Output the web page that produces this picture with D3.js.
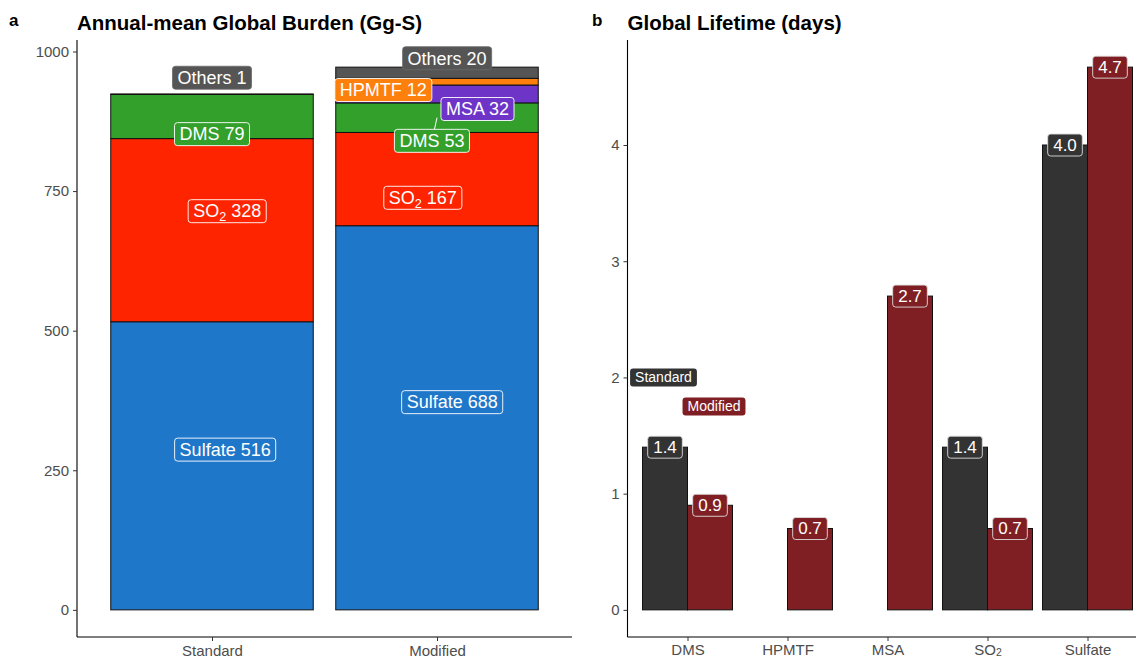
<!DOCTYPE html>
<html>
<head>
<meta charset="utf-8">
<script src="https://cdn.jsdelivr.net/npm/d3@7"></script>
<style>
  body { margin: 0; background: #fff; }
  svg { display: block; font-family: "Liberation Sans", Arial, sans-serif; }
</style>
</head>
<body>
<svg id="chart" width="1136" height="659"></svg>
<script>
// ---------------- DATA ----------------
const burdenCategories = ["Standard", "Modified"];
const burdenSpecies = ["Sulfate", "SO2", "DMS", "MSA", "HPMTF", "Others"];
const standardBurden = [516, 328, 79, 0, 0, 1];
const modifiedBurden = [688, 167, 53, 32, 12, 20];
const burdenTicks = [0, 250, 500, 750, 1000];

const lifetimeCategories = ["DMS", "HPMTF", "MSA", "SO2", "Sulfate"];
const standardLifetime = [1.4, null, null, 1.4, 4.0];
const modifiedLifetime = [0.9, 0.7, 2.7, 0.7, 4.67];
const lifetimeTicks = [0, 1, 2, 3, 4];
const lifetimeGroups = ["Standard", "Modified"];

// ---------------- STYLE / LAYOUT ----------------
const speciesColors = {
  Sulfate: "#1f77c9", SO2: "#fe2400", DMS: "#33a02c",
  MSA: "#6e34c8", HPMTF: "#fe800c", Others: "#555555"
};
const groupColors = { Standard: "#333333", Modified: "#7f1f23" };

// repelled label placements for panel a: [dx (fraction of bar width), y (data units)]
const burdenLabelPlacement = {
  Standard: { Sulfate: [0.065, 287], SO2: [0.075, 714], DMS: [0, 852], Others: [0, 953] },
  Modified: { Sulfate: [0.075, 372], SO2: [-0.07, 738], DMS: [-0.025, 840],
              MSA: [0.2, 897], HPMTF: [-0.265, 931], Others: [0.05, 988] }
};
const burdenLabelSegment = { Modified: { DMS: true } };
// legend-like labels in panel b: [x (continuous category units), y (days)]
const legendPlacement = { Standard: [0.76, 2.0], Modified: [1.265, 1.75] };

const svg = d3.select("#chart");
const plotTop = 40, plotBottom = 637;

function chemParts(name) {
  if (name.startsWith("SO2")) return [["SO", false], ["2", true], [name.slice(3), false]];
  return [[name, false]];
}

function addRichText(g, parts, fs, subShift) {
  const sh = subShift == null ? 0.22 : subShift;
  const t = g.append("text").attr("font-size", fs);
  let sub = false;
  parts.forEach(([txt, isSub]) => {
    if (!txt) return;
    const ts = t.append("tspan").text(txt);
    if (isSub && !sub) { ts.attr("font-size", fs * 0.7).attr("dy", fs * sh); sub = true; }
    else if (!isSub && sub) { ts.attr("dy", -fs * sh); sub = false; }
  });
  return t;
}

function drawLabel(g, cx, cy, parts, opts) {
  const lg = g.append("g");
  const rect = lg.append("rect");
  const t = addRichText(lg, parts, opts.fs).attr("fill", opts.color || "#fff")
    .attr("text-anchor", "middle").attr("x", cx).attr("y", cy + opts.fs * 0.35);
  const bb = t.node().getBBox();
  const h = opts.h;
  rect.attr("x", bb.x - opts.padX).attr("y", cy - h / 2)
    .attr("width", bb.width + 2 * opts.padX).attr("height", h)
    .attr("rx", 3).attr("ry", 3)
    .attr("fill", opts.fill)
    .attr("stroke", opts.stroke || "none").attr("stroke-width", opts.strokeWidth || 0.8);
  return lg;
}

function styleAxis(a) {
  a.selectAll("text").attr("fill", "#4d4d4d").attr("font-family", "Liberation Sans, Arial, sans-serif");
  a.selectAll("line").attr("stroke", "#333");
  a.select(".domain").attr("stroke", "#000").attr("stroke-width", 1.1);
}

// ---------------- PANEL A ----------------
{
  const left = 77, right = 572;
  const total = d3.max([d3.sum(standardBurden), d3.sum(modifiedBurden)]);
  const y = d3.scaleLinear().domain([-total * 0.05, total * 1.05]).range([plotBottom, plotTop]);
  const step = (right - left) / 2.2;
  const x = d3.scalePoint().domain(burdenCategories).range([left + 0.6 * step, right - 0.6 * step]);
  const bw = step * 0.9;

  const g = svg.append("g");
  const series = { Standard: standardBurden, Modified: modifiedBurden };

  burdenCategories.forEach(cat => {
    const vals = series[cat];
    let cum = 0;
    const segs = burdenSpecies.map((sp, i) => {
      const s = { sp, v0: cum, v1: cum + vals[i], v: vals[i] };
      cum += vals[i];
      return s;
    }).filter(s => s.v > 0);
    g.selectAll(null).data(segs).enter().append("rect")
      .attr("x", x(cat) - bw / 2).attr("width", bw)
      .attr("y", d => y(d.v1)).attr("height", d => y(d.v0) - y(d.v1))
      .attr("fill", d => speciesColors[d.sp])
      .attr("stroke", "#111").attr("stroke-width", 1);

    segs.forEach(s => {
      const pl = burdenLabelPlacement[cat][s.sp];
      const cx = x(cat) + pl[0] * bw, cy = y(pl[1]);
      if (burdenLabelSegment[cat] && burdenLabelSegment[cat][s.sp]) {
        g.append("line").attr("x1", x(cat)).attr("y1", y((s.v0 + s.v1) / 2))
          .attr("x2", cx).attr("y2", cy).attr("stroke", "#fff").attr("stroke-width", 1);
      }
      const isOther = s.sp === "Others";
      drawLabel(g, cx, cy, chemParts(s.sp + " " + s.v), {
        fs: 18, h: 23, padX: 5, fill: speciesColors[s.sp],
        stroke: isOther ? "#6a6a6a" : "#ffffff", strokeWidth: isOther ? 0.8 : 0.9
      });
    });
  });

  const yAxis = d3.axisLeft(y).tickValues(burdenTicks).tickFormat(d3.format("d")).tickSize(4).tickPadding(4);
  const ya = svg.append("g").attr("transform", `translate(${left},0)`).call(yAxis);
  ya.select(".domain").attr("d", `M0,${plotTop}V${plotBottom}`);
  const xAxis = d3.axisBottom(x).tickSize(4).tickPadding(4);
  const xa = svg.append("g").attr("transform", `translate(0,${plotBottom})`).call(xAxis);
  xa.select(".domain").attr("d", `M${left},0H${right}`);
  [ya, xa].forEach(a => { a.selectAll("text").attr("font-size", 15); styleAxis(a); });

  svg.append("text").attr("x", 9).attr("y", 26).attr("font-size", 17).attr("font-weight", "bold").text("a");
  svg.append("text").attr("x", left).attr("y", 30).attr("font-size", 20.5).attr("font-weight", "bold")
    .text("Annual-mean Global Burden (Gg-S)");
}

// ---------------- PANEL B ----------------
{
  const left = 627.5, step = 100;
  const x = d3.scaleLinear().domain([0.4, 5.6]).range([left, left + 5.2 * step]);
  const maxV = d3.max(standardLifetime.concat(modifiedLifetime));
  const y = d3.scaleLinear().domain([-maxV * 0.05, maxV * 1.05]).range([plotBottom, plotTop]);
  const bw = step * 0.45;
  const g = svg.append("g");
  const series = { Standard: standardLifetime, Modified: modifiedLifetime };
  const fmt = d3.format(".1f");

  lifetimeGroups.forEach((grp, gi) => {
    const data = lifetimeCategories.map((c, i) => ({ c, i, v: series[grp][i] })).filter(d => d.v != null);
    g.selectAll(null).data(data).enter().append("rect")
      .attr("x", d => x(d.i + 1) - bw + gi * bw).attr("width", bw)
      .attr("y", d => y(d.v)).attr("height", d => y(0) - y(d.v))
      .attr("fill", groupColors[grp]).attr("stroke", "#111").attr("stroke-width", 1);
  });
  lifetimeGroups.forEach((grp, gi) => {
    const data = lifetimeCategories.map((c, i) => ({ c, i, v: series[grp][i] })).filter(d => d.v != null);
    data.forEach(d => {
      drawLabel(g, x(d.i + 1) - bw / 2 + gi * bw, y(d.v), [[fmt(d.v), false]], {
        fs: 17, h: 22, padX: 5.5, fill: groupColors[grp], stroke: "#dddddd", strokeWidth: 0.9
      });
    });
    const lp = legendPlacement[grp];
    drawLabel(g, x(lp[0]), y(lp[1]), [[grp, false]], {
      fs: 14, h: 18, padX: 5, fill: groupColors[grp], stroke: "none"
    });
  });

  const yAxis = d3.axisLeft(y).tickValues(lifetimeTicks).tickFormat(d3.format("d")).tickSize(4).tickPadding(4);
  const ya = svg.append("g").attr("transform", `translate(${left},0)`).call(yAxis);
  ya.select(".domain").attr("d", `M0,${plotTop}V${plotBottom}`);
  const xAxis = d3.axisBottom(x).tickValues([1, 2, 3, 4, 5]).tickFormat(() => "").tickSize(4).tickPadding(4);
  const xa = svg.append("g").attr("transform", `translate(0,${plotBottom})`).call(xAxis);
  xa.select(".domain").attr("d", `M${left},0H${left + 5.2 * step}`);
  xa.selectAll(".tick").each(function (d) {
    const tk = d3.select(this);
    tk.select("text").remove();
    addRichText(tk, chemParts(lifetimeCategories[d - 1]), 15, 0.12)
      .attr("text-anchor", "middle").attr("y", 7).attr("dy", "0.71em");
  });
  ya.selectAll("text").attr("font-size", 15);
  [ya, xa].forEach(styleAxis);

  svg.append("text").attr("x", 592).attr("y", 26).attr("font-size", 17).attr("font-weight", "bold").text("b");
  svg.append("text").attr("x", left).attr("y", 30).attr("font-size", 20.5).attr("font-weight", "bold")
    .text("Global Lifetime (days)");
}
</script>
</body>
</html>
